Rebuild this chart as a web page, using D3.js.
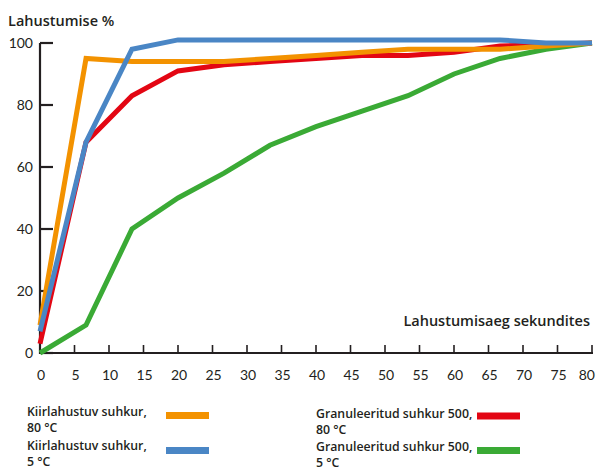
<!DOCTYPE html>
<html>
<head>
<meta charset="utf-8">
<script src="https://cdn.jsdelivr.net/npm/d3@7"></script>
<style>
  body { margin: 0; background: #fff; }
  text { font-family: Lato, "Open Sans", sans-serif; fill: #231f20; }
  .lab { font-family: "Open Sans", sans-serif; font-weight: 600; }
</style>
</head>
<body>
<div id="graph"></div>
<script>
// andmed
let times = [0, 6.67, 13.33, 20, 26.67, 33.33, 40, 46.67, 53.33, 60, 66.67, 73.33, 80];
let kiir80 = [9, 95, 94, 94, 94, 95, 96, 97, 98, 98, 98, 99, 100];
let kiir5 = [7, 68, 98, 101, 101, 101, 101, 101, 101, 101, 101, 100, 100];
let gran80 = [3, 68, 83, 91, 93, 94, 95, 96, 96, 97, 99, 99.5, 100];
let gran5 = [0, 9, 40, 50, 58, 67, 73, 78, 83, 90, 95, 98, 100];
let xTicks = [0, 5, 10, 15, 20, 25, 30, 35, 40, 45, 50, 55, 60, 65, 70, 75, 80];
let yTicks = [0, 20, 40, 60, 80, 100];
let seriesNames = ["Kiirlahustuv suhkur,|80 °C", "Kiirlahustuv suhkur,|5 °C",
                   "Granuleeritud suhkur 500,|80 °C", "Granuleeritud suhkur 500,|5 °C"];
let colors = ["#f39200", "#4a86c5", "#e30613", "#3aaa35"];
let drawOrder = [3, 2, 0, 1];

let W = 596, H = 471;
let svg = d3.select("#graph").append("svg")
    .attr("width", W).attr("height", H);

let x = d3.scaleLinear().domain([0, 80]).range([40, 592]);
let y = d3.scaleLinear().domain([0, 100]).range([353, 43]);

// teljed
svg.append("line").attr("x1", x(0)).attr("x2", x(0)).attr("y1", y(0) + 1).attr("y2", y(100))
    .attr("stroke", "#231f20").attr("stroke-width", 2.2);
svg.append("line").attr("x1", x(0)).attr("x2", x(80) + 1).attr("y1", y(0)).attr("y2", y(0))
    .attr("stroke", "#231f20").attr("stroke-width", 2.2);

svg.selectAll(".ytick").data(yTicks).enter().append("line")
    .attr("x1", x(0)).attr("x2", x(0) + 13)
    .attr("y1", d => y(d)).attr("y2", d => y(d))
    .attr("stroke", "#231f20").attr("stroke-width", 2.2);
svg.selectAll(".ylab").data(yTicks).enter().append("text")
    .attr("x", 33).attr("y", d => y(d) + 5)
    .attr("text-anchor", "end").style("font-size", "14px")
    .text(d => d);

svg.selectAll(".xtick").data(xTicks.slice(1)).enter().append("line")
    .attr("x1", d => x(d)).attr("x2", d => x(d))
    .attr("y1", y(0)).attr("y2", y(0) - 8)
    .attr("stroke", "#231f20").attr("stroke-width", 1.6);
svg.selectAll(".xlab").data(xTicks).enter().append("text")
    .attr("x", d => d === 80 ? 595 : x(d) + 1).attr("y", 380)
    .attr("text-anchor", d => d === 80 ? "end" : "middle").style("font-size", "14px")
    .text(d => d);

svg.append("text").attr("class", "lab").attr("x", 8).attr("y", 26)
    .style("font-size", "14.5px")
    .text("Lahustumise %");
svg.append("text").attr("class", "lab").attr("x", 590).attr("y", 326)
    .attr("text-anchor", "end")
    .style("font-size", "14.5px")
    .text("Lahustumisaeg sekundites");

// jooned
let line = d3.line().x((d, i) => x(times[i])).y(d => y(d));
let allSeries = [kiir80, kiir5, gran80, gran5];
drawOrder.forEach(k => {
    svg.append("path").datum(allSeries[k])
        .attr("d", line)
        .attr("fill", "none")
        .attr("stroke", colors[k])
        .attr("stroke-width", 5)
        .attr("stroke-linejoin", "miter");
});

// legend
let legendPos = [
    { tx: 27, ty: 416, sx: 166, sy: 415.5 },
    { tx: 27, ty: 450, sx: 166, sy: 450.5 },
    { tx: 316, ty: 418, sx: 477, sy: 416 },
    { tx: 316, ty: 451, sx: 477, sy: 450.5 }
];
seriesNames.forEach((nm, k) => {
    let p = legendPos[k];
    let t = svg.append("text").attr("class", "lab").attr("x", p.tx).attr("y", p.ty)
        .style("font-size", "12.3px");
    nm.split("|").forEach((ln, j) => {
        t.append("tspan").attr("x", p.tx).attr("dy", j === 0 ? 0 : 16).text(ln);
    });
    svg.append("line").attr("x1", p.sx).attr("x2", p.sx + 43)
        .attr("y1", p.sy).attr("y2", p.sy)
        .attr("stroke", colors[k]).attr("stroke-width", 7);
});
</script>
</body>
</html>
